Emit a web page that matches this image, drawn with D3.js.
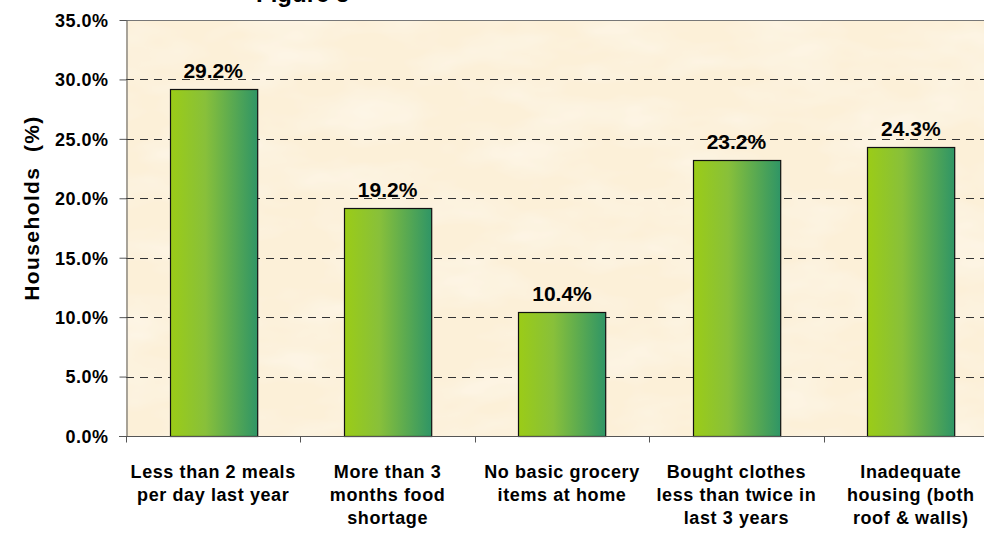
<!DOCTYPE html>
<html>
<head>
<meta charset="utf-8">
<script src="https://cdn.jsdelivr.net/npm/d3@7"></script>
<style>
  html, body { margin: 0; padding: 0; background: #ffffff; }
  svg { display: block; }
  text { font-family: "Liberation Sans", Arial, sans-serif; font-weight: bold; fill: #000; }
</style>
</head>
<body>
<svg id="chart" width="984" height="538"></svg>
<script>
// Household deprivation indicators
const categories = [
  ["Less than 2 meals", "per day last year"],
  ["More than 3", "months food", "shortage"],
  ["No basic grocery", "items at home"],
  ["Bought clothes", "less than twice in", "last 3 years"],
  ["Inadequate", "housing (both", "roof & walls)"]
];
const values = [29.2, 19.2, 10.4, 23.2, 24.3];
const yTicks = [0, 5, 10, 15, 20, 25, 30, 35];
const yTitle = "Households  (%)";
const titleText = "Figure 5";

const m = { left: 126, top: 20, bottom: 436, right: 998 };

const svg = d3.select("#chart");
const defs = svg.append("defs");

// bar fill: yellow-green to sea green, left to right
const grad = defs.append("linearGradient").attr("id", "barGrad")
  .attr("x1", "0%").attr("x2", "100%").attr("y1", "0%").attr("y2", "0%");
grad.append("stop").attr("offset", "0%").attr("stop-color", "#9bcc17");
grad.append("stop").attr("offset", "40%").attr("stop-color", "#88c03a");
grad.append("stop").attr("offset", "100%").attr("stop-color", "#2f9566");

// parchment texture for the plot area
const tex = defs.append("filter").attr("id", "parchment")
  .attr("x", 0).attr("y", 0).attr("width", "100%").attr("height", "100%");
tex.append("feTurbulence").attr("type", "fractalNoise")
  .attr("baseFrequency", "0.012 0.03").attr("numOctaves", 3).attr("seed", 4).attr("result", "n");
tex.append("feColorMatrix").attr("in", "n").attr("type", "matrix")
  .attr("values", "0 0 0 0 1  0 0 0 0 1  0 0 0 0 1  1.2 0 0 0 -0.45").attr("result", "spots");
tex.append("feComposite").attr("in", "spots").attr("in2", "SourceGraphic").attr("operator", "in").attr("result", "s2");
tex.append("feComponentTransfer").attr("in", "s2").attr("result", "s3")
  .append("feFuncA").attr("type", "linear").attr("slope", 0.55);
const mg = tex.append("feMerge");
mg.append("feMergeNode").attr("in", "SourceGraphic");
mg.append("feMergeNode").attr("in", "s3");

const x = d3.scaleBand().domain(d3.range(values.length))
  .range([m.left, m.right]).paddingInner(0.5).paddingOuter(0.25);
const xCat = d3.scaleBand().domain(d3.range(values.length)).range([m.left, m.right]);
const y = d3.scaleLinear().domain([0, 35]).range([m.bottom, m.top]);

// title (runs off the top edge)
svg.append("text").attr("x", 256).attr("y", 2)
  .style("font-size", "24px").text(titleText);

// plot background
svg.append("rect").attr("x", m.left).attr("y", m.top)
  .attr("width", m.right - m.left).attr("height", m.bottom - m.top)
  .attr("fill", "#fcf0d8").attr("filter", "url(#parchment)");

// dashed gridlines
svg.append("g").selectAll("line").data(yTicks.filter(t => t > 0 && t < 35)).join("line")
  .attr("x1", m.left).attr("x2", m.right)
  .attr("y1", d => Math.round(y(d)) + 0.5).attr("y2", d => Math.round(y(d)) + 0.5)
  .attr("stroke", "#333").attr("stroke-width", 1).attr("stroke-dasharray", "8,6");

// top border of the plot
svg.append("line").attr("x1", m.left).attr("x2", m.right)
  .attr("y1", m.top + 0.5).attr("y2", m.top + 0.5)
  .attr("stroke", "#777").attr("stroke-width", 1);

// bars
svg.append("g").selectAll("rect").data(values).join("rect")
  .attr("x", (d, i) => Math.round(x(i)) + 0.5)
  .attr("y", d => Math.round(y(d)) + 0.5)
  .attr("width", x.bandwidth())
  .attr("height", d => Math.round(y(0)) - Math.round(y(d)))
  .attr("fill", "url(#barGrad)")
  .attr("stroke", "#111").attr("stroke-width", 1.2);

// value labels
svg.append("g").selectAll("text").data(values).join("text")
  .attr("x", (d, i) => x(i) + x.bandwidth() / 2)
  .attr("y", d => y(d) - 11)
  .attr("text-anchor", "middle")
  .style("font-size", "21px")
  .text(d => d.toFixed(1) + "%");

// y axis
const yAxis = svg.append("g").attr("transform", `translate(${m.left + 0.5},0)`)
  .call(d3.axisLeft(y).tickValues(yTicks).tickSize(7).tickSizeOuter(0)
    .tickFormat(d => d.toFixed(1) + "%"));
yAxis.select(".domain").attr("stroke", "#555");
yAxis.selectAll(".tick line").attr("stroke", "#555");
yAxis.selectAll(".tick text").attr("x", -18).attr("dy", "0.35em")
  .style("font-size", "18px").style("font-family", "Liberation Sans, Arial, sans-serif")
  .style("font-weight", "bold").style("letter-spacing", "0.5px").attr("fill", "#000");

// x axis
const xAxis = svg.append("g").attr("transform", `translate(0,${m.bottom + 0.5})`);
xAxis.append("line").attr("x1", m.left - 7).attr("x2", m.right)
  .attr("stroke", "#555");
xAxis.selectAll("line.tk").data(d3.range(values.length + 1)).join("line").attr("class", "tk")
  .attr("x1", i => Math.round(m.left + i * xCat.bandwidth()) + 0.5)
  .attr("x2", i => Math.round(m.left + i * xCat.bandwidth()) + 0.5)
  .attr("y1", 0).attr("y2", 6).attr("stroke", "#555");

// category labels
const catG = svg.append("g");
categories.forEach((lines, i) => {
  const cx = xCat(i) + xCat.bandwidth() / 2;
  const t = catG.append("text")
    .attr("x", cx).attr("y", 478)
    .attr("text-anchor", "middle")
    .style("font-size", "18px")
    .style("letter-spacing", "0.6px");
  lines.forEach((ln, k) => {
    t.append("tspan").attr("x", cx).attr("dy", k === 0 ? 0 : 23).text(ln);
  });
});

// y axis title
svg.append("text")
  .attr("transform", "translate(39,208) rotate(-90)")
  .attr("text-anchor", "middle")
  .style("font-size", "21px")
  .style("letter-spacing", "1.4px")
  .attr("xml:space", "preserve")
  .text(yTitle);
</script>
</body>
</html>
